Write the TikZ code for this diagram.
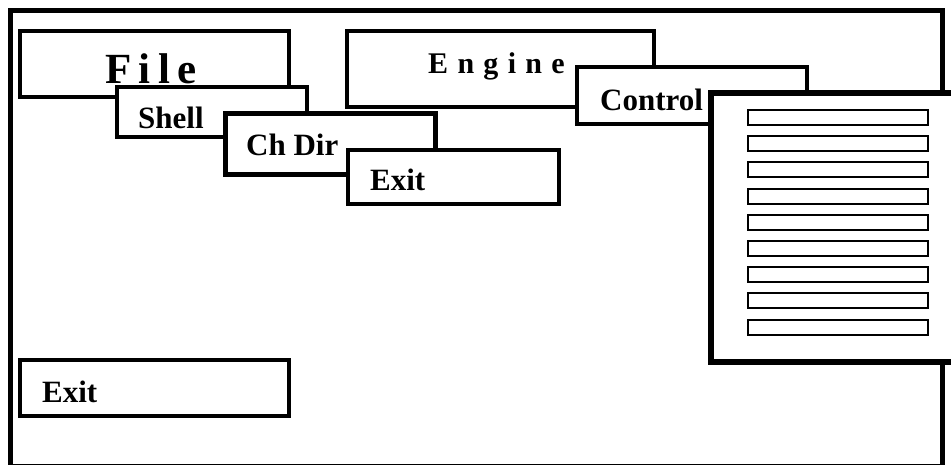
\documentclass[tikz,border=0pt]{standalone}
\usepackage{fontspec}
\setmainfont{Liberation Serif}
\begin{document}
\begin{tikzpicture}[x=1pt,y=-1pt,
  box/.style={draw=black,fill=white,line width=4.5pt,anchor=north west,inner sep=0pt,outer sep=0pt},
  lbl/.style={anchor=base west,inner sep=0pt,font=\fontsize{31}{31}\selectfont\bfseries},
  bar/.style={draw=black,fill=white,line width=2pt,anchor=north west,inner sep=0pt,minimum width=180pt,minimum height=15pt}]
\useasboundingbox (0,0) rectangle (951,464);
% outer frame
\node[box,line width=5pt,minimum width=931.5pt,minimum height=456pt] (frame) at (10.5,10.5) {};
% File
\node[box,minimum width=269pt,minimum height=66pt] (file) at (20,31) {};
\node[lbl,font=\fontsize{43}{43}\selectfont\bfseries] (filet) at (105,83) {F\hspace{7.5pt}i\hspace{7.5pt}l\hspace{7.5pt}e};
% Shell
\node[box,minimum width=190pt,minimum height=50pt] (shell) at (117,87) {};
\node[lbl] (shellt) at (138,128) {Shell};
% Ch Dir
\node[box,minimum width=210pt,minimum height=61pt] (chdir) at (225.5,113.5) {};
\node[lbl] (chdirt) at (246,155) {Ch Dir};
% Engine
\node[box,minimum width=307pt,minimum height=76pt] (engine) at (347,31) {};
\node[lbl,font=\fontsize{30}{30}\selectfont\bfseries] (enginet) at (428,73) {E\hspace{9.3pt}n\hspace{9.3pt}g\hspace{9.3pt}i\hspace{9.3pt}n\hspace{9.3pt}e};
% Exit (middle)
\node[box,minimum width=211pt,minimum height=54pt] (exitm) at (348,150) {};
\node[lbl] (exitmt) at (370,190) {Exit};
% Control
\node[box,minimum width=230pt,minimum height=57pt] (control) at (577,67) {};
\node[lbl] (controlt) at (600,110) {Control};
% Panel
\node[box,line width=5.5pt,minimum width=260pt,minimum height=269pt] (panel) at (711,93) {};
\foreach \i in {0,...,8}{
  \node[bar] (bar\i) at (747,{109+26.2*\i}) {};
}
% Exit (bottom)
\node[box,minimum width=269pt,minimum height=56pt] (exitb) at (20,360) {};
\node[lbl] (exitbt) at (42,402) {Exit};
\end{tikzpicture}
\end{document}
